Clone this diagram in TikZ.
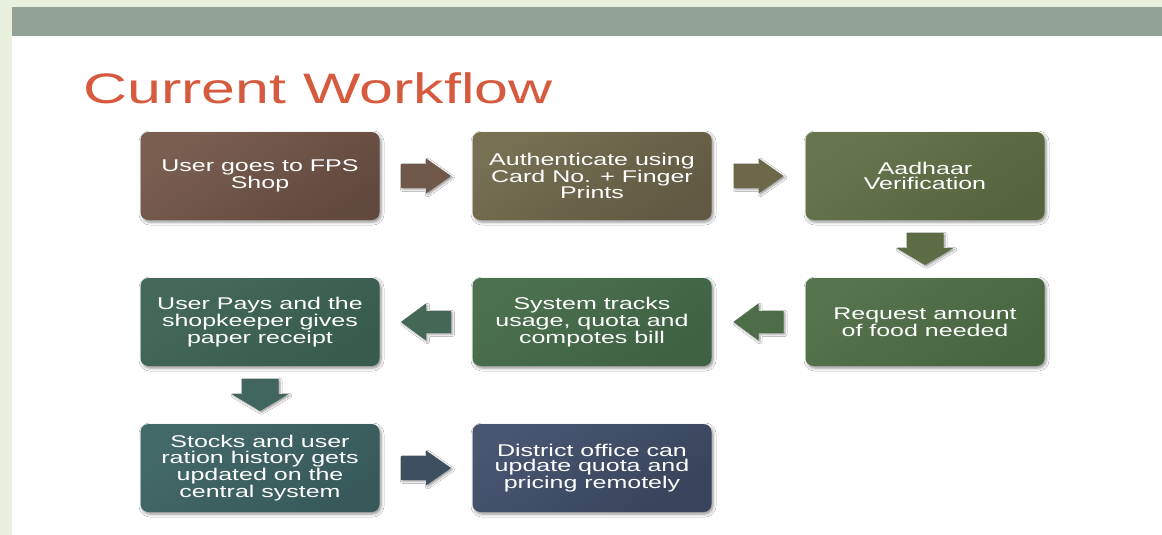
\documentclass[tikz,border=0pt]{standalone}
\usepackage{fontspec}
\setmainfont{Liberation Sans}
\newfontfamily\titlefont[FakeStretch=1.43]{Liberation Sans}
\newfontfamily\boxfont[FakeStretch=1.47]{Liberation Sans}
\usetikzlibrary{calc,shadows.blur}
\definecolor{margin}{HTML}{E9F1DE}
\definecolor{banner}{HTML}{92A297}
\definecolor{titlecol}{HTML}{D55A3E}
\definecolor{aL}{HTML}{7A5F51}\definecolor{aD}{HTML}{62493D}
\definecolor{bL}{HTML}{767153}\definecolor{bD}{HTML}{5F5A41}
\definecolor{cL}{HTML}{687650}\definecolor{cD}{HTML}{56643E}
\definecolor{dL}{HTML}{56744D}\definecolor{dD}{HTML}{476640}
\definecolor{eL}{HTML}{4C714E}\definecolor{eD}{HTML}{3E6242}
\definecolor{fL}{HTML}{44695A}\definecolor{fD}{HTML}{375B4C}
\definecolor{gL}{HTML}{436968}\definecolor{gD}{HTML}{375959}
\definecolor{hL}{HTML}{485672}\definecolor{hD}{HTML}{37445B}
\definecolor{ar1}{HTML}{6F584A}
\definecolor{ar2}{HTML}{6C6849}
\definecolor{ar3}{HTML}{5E6C45}
\definecolor{ar4}{HTML}{4D6D49}
\definecolor{ar5}{HTML}{436856}
\definecolor{ar6}{HTML}{416660}
\definecolor{ar7}{HTML}{3F4F62}
\tikzset{
  stepbox/.style={rounded corners=8pt, minimum width=239pt, minimum height=88pt,
    inner sep=0pt, align=center, text=white,
    font=\boxfont\fontsize{17pt}{15.6pt}\selectfont,
    blur shadow={shadow xshift=1.5pt, shadow yshift=-2pt, shadow blur radius=3pt, shadow opacity=45}},
  grad/.style n args={2}{top color=#1, bottom color=#2, shading angle=35},
  blockarrow/.style={blur shadow={shadow xshift=1.5pt, shadow yshift=-1.5pt, shadow blur radius=2pt, shadow opacity=40}}
}
\newcommand{\rightblock}[2]{\fill[#2, blockarrow, shift={(#1)}] (-25,-12) -- (0,-12) -- (0,-17.5) -- (25,0) -- (0,17.5) -- (0,12) -- (-25,12) -- cycle;}
\newcommand{\leftblock}[2]{\fill[#2, blockarrow, shift={(#1)}] (25,-11) -- (0,-11) -- (0,-18.5) -- (-25,0) -- (0,18.5) -- (0,11) -- (25,11) -- cycle;}
\newcommand{\downblock}[2]{\fill[#2, blockarrow, shift={(#1)}] (-18.5,-16) -- (18.5,-16) -- (18.5,-1) -- (28.5,-1) -- (0,16) -- (-28.5,-1) -- (-18.5,-1) -- cycle;}
\begin{document}
\begin{tikzpicture}[x=1pt, y=-1pt]
\useasboundingbox (0,0) rectangle (1162,535);
\fill[margin] (0,0) rectangle (1162,535);
\fill[white] (12,36) rectangle (1162,535);
\fill[banner] (12,7) rectangle (1162,36);
\node[anchor=base west, inner sep=0pt, text=titlecol, font=\titlefont\fontsize{42.6pt}{46pt}\selectfont] (title) at (83,103) {Current Workflow};

\node[stepbox, grad={aL}{aD}] (b1) at (260,176) {User goes to FPS\\Shop};
\node[stepbox, grad={bL}{bD}] (b2) at (592,176) {Authenticate using\\Card No. + Finger\\Prints};
\node[stepbox, grad={cL}{cD}] (b3) at (925,176) {Aadhaar\\Verification};
\node[stepbox, grad={dL}{dD}] (b4) at (925,322) {Request amount\\of food needed};
\node[stepbox, grad={eL}{eD}] (b5) at (592,322) {System tracks\\usage, quota and\\compotes bill};
\node[stepbox, grad={fL}{fD}] (b6) at (260,322) {User Pays and the\\shopkeeper gives\\paper receipt};
\node[stepbox, grad={gL}{gD}] (b7) at (260,468) {Stocks and user\\ration history gets\\updated on the\\central system};
\node[stepbox, grad={hL}{hD}] (b8) at (592,468) {District office can\\update quota and\\pricing remotely};

\coordinate (a12) at ($(b1.east)!0.5!(b2.west)$);
\coordinate (a23) at ($(b2.east)!0.5!(b3.west)$);
\coordinate (a34) at ($(b3.south)!0.5!(b4.north)$);
\coordinate (a45) at ($(b4.west)!0.5!(b5.east)$);
\coordinate (a56) at ($(b5.west)!0.5!(b6.east)$);
\coordinate (a67) at ($(b6.south)!0.5!(b7.north)$);
\coordinate (a78) at ($(b7.east)!0.5!(b8.west)$);
\rightblock{a12}{ar1}
\rightblock{a23}{ar2}
\downblock{a34}{ar3}
\leftblock{a45}{ar4}
\leftblock{a56}{ar5}
\downblock{a67}{ar6}
\rightblock{a78}{ar7}
\end{tikzpicture}
\end{document}
